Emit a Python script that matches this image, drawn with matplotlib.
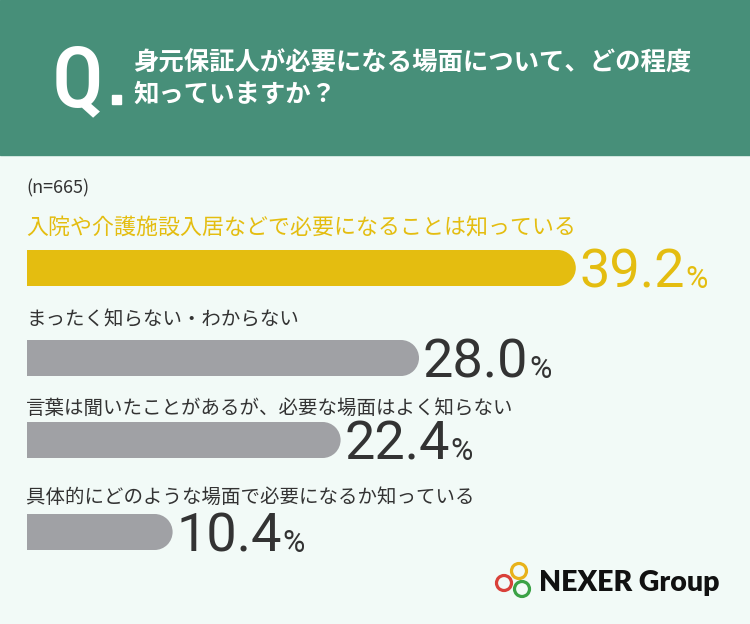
import matplotlib
matplotlib.use("Agg")
import matplotlib.pyplot as plt
from matplotlib.patches import Ellipse, Circle, Rectangle
from matplotlib import font_manager

# ---- data ----
TITLE_LINES = ["身元保証人が必要になる場面について、どの程度", "知っていますか？"]
N_LABEL = "(n=665)"
CATEGORIES = [
    "入院や介護施設入居などで必要になることは知っている",
    "まったく知らない・わからない",
    "言葉は聞いたことがあるが、必要な場面はよく知らない",
    "具体的にどのような場面で必要になるか知っている",
]
VALUES = [39.2, 28.0, 22.4, 10.4]

# ---- style ----
W, H = 750, 624
BG = "#F2FAF7"
HEADER = "#478F79"
YELLOW = "#E4BD10"
GRAY = "#A0A1A5"
DARK = "#333333"
PX_PER_PCT = 14.0
BAR_LEFT = 27
BAR_H = 36
BAR_TOPS = [250, 340, 422, 514]
LABEL_Y = [228, 320, 408, 497]

available = {f.name for f in font_manager.fontManager.ttflist}
CJK = ["Noto Sans CJK JP", "DejaVu Sans"]
NUM_FONT = "Roboto" if "Roboto" in available else "DejaVu Sans"
Q_FONT = next((f for f in ["Roboto Condensed", "Open Sans Condensed", "Liberation Sans Narrow",
                           "DejaVu Sans Condensed", "Roboto"] if f in available), "DejaVu Sans")

fig = plt.figure(figsize=(W / 100, H / 100), dpi=100)
fig.patch.set_facecolor(BG)

# pixel axes for text / decoration
ax = fig.add_axes([0, 0, 1, 1])
ax.set_xlim(0, W)
ax.set_ylim(H, 0)
ax.axis("off")

# percent axes for bars (1% = PX_PER_PCT px)
bx = fig.add_axes([0, 0, 1, 1])
bx.set_xlim(-BAR_LEFT / PX_PER_PCT, (W - BAR_LEFT) / PX_PER_PCT)
bx.set_ylim(H, 0)
bx.axis("off")
bx.patch.set_alpha(0)

# header band
ax.add_patch(Rectangle((0, 0), W, 155, color=HEADER, zorder=0))
ax.text(52, 106, "Q", color="white", fontsize=62, fontweight="medium",
        family=Q_FONT, va="baseline", ha="left")
ax.add_patch(Rectangle((112, 95), 9, 9, color="white"))
ax.text(133, 63, TITLE_LINES[0], color="white", fontsize=18.3, fontweight="bold",
        family=CJK, va="center", ha="left")
ax.text(133, 94, TITLE_LINES[1], color="white", fontsize=18.3, fontweight="bold",
        family=CJK, va="center", ha="left")

ax.text(26, 188, N_LABEL, color=DARK, fontsize=13, family=CJK, va="center", ha="left")

r = BAR_H / 2 / PX_PER_PCT
for i, (cat, v) in enumerate(zip(CATEGORIES, VALUES)):
    col = YELLOW if i == 0 else GRAY
    yc = BAR_TOPS[i] + BAR_H / 2
    bx.barh(yc, v - r, height=BAR_H, left=0, color=col, linewidth=0)
    bx.add_patch(Ellipse((v - r, yc), 2 * r, BAR_H, color=col, linewidth=0))
    if i == 0:
        ax.text(26, LABEL_Y[i], cat, color=YELLOW, fontsize=15.8, family=CJK,
                va="center", ha="left")
    else:
        ax.text(26, LABEL_Y[i], cat, color=DARK, fontsize=14, family=CJK,
                va="center", ha="left")
    tcol = YELLOW if i == 0 else DARK
    base = BAR_TOPS[i] + BAR_H + 2
    t = bx.text(v + 0.25, base, f"{v:.1f}", color=tcol, fontsize=39, family=NUM_FONT,
                va="baseline", ha="left")
    fig.canvas.draw()
    bb = t.get_window_extent().transformed(ax.transData.inverted())
    ax.text(bb.x1 + 1, base, "%", color=tcol, fontsize=22, family=NUM_FONT,
            va="baseline", ha="left")

# logo
for (cx, cy), c in zip([(519, 571), (504, 583), (522, 589)], ["#E8B21A", "#D9413A", "#3BA246"]):
    ax.add_patch(Circle((cx, cy), 7.5, fill=False, edgecolor=c, linewidth=2.3))
ax.text(539, 583, "NEXER Group", color="#111111", fontsize=20.5, fontweight="heavy",
        family="Lato", va="center", ha="left")

fig.savefig("out.png", dpi=100, facecolor=BG)
